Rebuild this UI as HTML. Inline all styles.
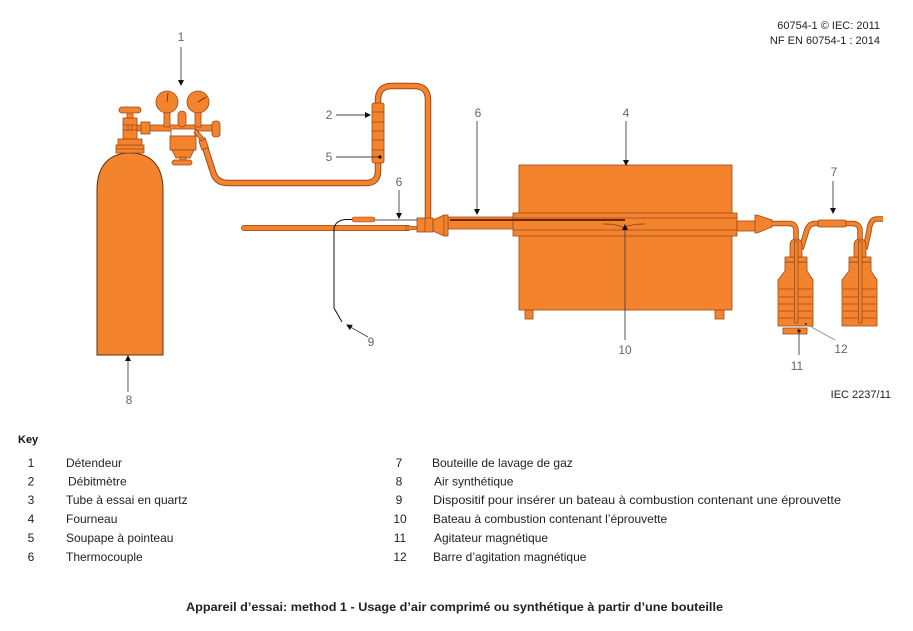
<!DOCTYPE html>
<html><head><meta charset="utf-8"><style>
html,body{margin:0;padding:0;background:#fff;}
svg{display:block;}
text{font-family:"Liberation Sans",sans-serif;}
</style></head><body>
<svg width="913" height="631" viewBox="0 0 913 631" xmlns="http://www.w3.org/2000/svg">
<defs>
<marker id="ah" markerWidth="6" markerHeight="6" refX="5" refY="3" orient="auto" markerUnits="userSpaceOnUse">
<path d="M0,0 L6,3 L0,6 Z" fill="#111"/>
</marker>
</defs>
<rect width="913" height="631" fill="#fff"/>

<!-- header -->
<text x="880" y="29" font-size="11" fill="#222" text-anchor="end">60754-1 © IEC: 2011</text>
<text x="880" y="44" font-size="11" fill="#222" text-anchor="end">NF EN 60754-1 : 2014</text>

<g stroke="#9a4a18" stroke-width="0.8" fill="#F4832E">
<!-- cylinder -->
<path d="M97,355 V190 C97,166 109,153 130,153 C151,153 163,166 163,190 V355 Z" stroke="#5a3010" stroke-width="1"/>
<rect x="116" y="145" width="28" height="8"/>
<line x1="116" y1="149" x2="144" y2="149"/>
<rect x="118" y="139" width="24" height="6"/>
<rect x="123" y="118" width="14" height="21"/>
<line x1="123" y1="125" x2="137" y2="125"/>
<line x1="123" y1="130" x2="137" y2="130"/>
<line x1="128" y1="125" x2="128" y2="130"/>
<line x1="132" y1="125" x2="132" y2="130"/>
<rect x="127" y="112" width="6" height="6"/>
<rect x="119" y="107" width="22" height="6" rx="3"/>

<!-- regulator -->
<rect x="137" y="125" width="78" height="6"/>
<rect x="141" y="122" width="9" height="12"/>
<rect x="164" y="111" width="6" height="16"/>
<rect x="195" y="111" width="6" height="16"/>
<circle cx="167" cy="102" r="11"/>
<circle cx="198" cy="102" r="11"/>
<line x1="167" y1="102" x2="168" y2="93" stroke="#5a2a08"/>
<line x1="198" y1="102" x2="206" y2="97" stroke="#5a2a08"/>
<rect x="178" y="111" width="8" height="16" rx="4"/>
<rect x="171" y="129" width="24" height="7" fill="#fff"/>
<rect x="170" y="136" width="26" height="14"/>
<path d="M172,150 H194 L190,158 H176 Z"/>
<rect x="180" y="157" width="6" height="4"/>
<rect x="172" y="160" width="20" height="5" rx="2.5"/>
<rect x="212" y="121" width="8" height="16" rx="3"/>
<path d="M196,129 L203,137 L200,139 L194,133 Z"/>
</g>

<!-- hose from regulator to flowmeter and loop -->
<path d="M202,138 L213,172 Q216,183 228,183 H366 Q378,183 378,171 V160" fill="none" stroke="#9a4a18" stroke-width="6.5"/>
<path d="M202,138 L213,172 Q216,183 228,183 H366 Q378,183 378,171 V160" fill="none" stroke="#F4832E" stroke-width="4.5"/>
<rect x="200" y="140" width="7" height="9" transform="rotate(-18 203 144)" fill="#F4832E" stroke="#9a4a18" stroke-width="0.8"/>
<path d="M378,104 V100 Q378,86 392,86 H414 Q428,86 428,100 V219" fill="none" stroke="#9a4a18" stroke-width="6.5"/>
<path d="M378,104 V100 Q378,86 392,86 H414 Q428,86 428,100 V219" fill="none" stroke="#F4832E" stroke-width="4.5"/>
<!-- flowmeter -->
<g stroke="#9a4a18" stroke-width="0.8" fill="#F4832E">
<rect x="372" y="103" width="12" height="60" rx="2"/>
<line x1="372" y1="112" x2="384" y2="112"/>
<line x1="372" y1="122" x2="384" y2="122"/>
<line x1="372" y1="131" x2="384" y2="131"/>
<line x1="372" y1="140" x2="384" y2="140"/>
<line x1="372" y1="150" x2="384" y2="150"/>
</g>

<!-- sample insertion rod -->
<path d="M244,228 H408" stroke="#9a4a18" stroke-width="6" stroke-linecap="round" fill="none"/>
<path d="M244,228 H408" stroke="#F4832E" stroke-width="4.5" stroke-linecap="round" fill="none"/>
<path d="M406,226 L418,226.5 V229.5 L406,230 Z" fill="#F4832E" stroke="#9a4a18" stroke-width="0.6"/>
<rect x="352" y="217" width="23" height="5" rx="2.5" fill="#F4832E" stroke="#9a4a18" stroke-width="0.6"/>
<line x1="375" y1="220" x2="420" y2="220" stroke="#777" stroke-width="1.2"/>
<path d="M334,228 Q336,220 346,219.5 L352,219.5" fill="none" stroke="#111" stroke-width="1"/>
<path d="M334,228 V308 L342,322" fill="none" stroke="#111" stroke-width="1"/>

<!-- coupling and tube -->
<g stroke="#9a4a18" stroke-width="0.8" fill="#F4832E">
<rect x="448" y="217" width="70" height="12"/>
<rect x="417" y="218" width="16" height="14"/>
<line x1="425" y1="218" x2="425" y2="232"/>
<path d="M433,220 L444,215 H448 V236 H444 L433,231 Z"/>
<line x1="444" y1="215" x2="444" y2="236"/>
<!-- furnace -->
<rect x="519" y="165" width="213" height="145"/>
<rect x="525" y="310" width="8" height="9"/>
<rect x="715" y="310" width="9" height="9"/>
<rect x="513" y="213" width="224" height="23"/>
<line x1="513" y1="218" x2="737" y2="218"/>
<line x1="513" y1="230" x2="737" y2="230"/>
<rect x="737" y="221" width="20" height="10"/>
<path d="M755,215 L757,215 L772,220 V227 L757,233 L755,233 Z"/>
</g>
<line x1="450" y1="220" x2="625" y2="220" stroke="#6a2808" stroke-width="2"/>
<path d="M603,224 Q618,224 624,228 Q630,224 645,224" fill="none" stroke="#9a4a18" stroke-width="0.9"/>

<!-- gas wash bottle tubes -->
<path d="M771,223.5 H789 Q796,223.5 796,231 V241" fill="none" stroke="#9a4a18" stroke-width="5.5"/>
<path d="M771,223.5 H789 Q796,223.5 796,231 V241" fill="none" stroke="#F4832E" stroke-width="3.8"/>
<path d="M801,249 L806,233 Q808,223.5 815,223.5 H852 Q860,223.5 860,231 V241" fill="none" stroke="#9a4a18" stroke-width="5.5"/>
<path d="M801,249 L806,233 Q808,223.5 815,223.5 H852 Q860,223.5 860,231 V241" fill="none" stroke="#F4832E" stroke-width="3.8"/>
<path d="M865,249 L869,231 Q870,219 877,219 H883" fill="none" stroke="#9a4a18" stroke-width="5.5"/>
<path d="M865,249 L869,231 Q870,219 877,219 H883" fill="none" stroke="#F4832E" stroke-width="3.8"/>
<rect x="818" y="220" width="28" height="7" rx="1.5" fill="#F4832E" stroke="#9a4a18" stroke-width="0.8"/>

<g id="bottle" stroke="#9a4a18" stroke-width="0.8" fill="#F4832E">
<path d="M785,262 H807 V271 L813,280 V326 H778 V280 L785,271 Z"/>
<rect x="785" y="257" width="22" height="5"/>
<path d="M790,257 V246 Q790,239 796,239 Q802,239 802,246 V257 Z"/>
<line x1="779" y1="289" x2="812" y2="289"/>
<line x1="779" y1="297" x2="812" y2="297"/>
<line x1="779" y1="304" x2="812" y2="304"/>
<line x1="779" y1="311" x2="812" y2="311"/>
<line x1="779" y1="318" x2="812" y2="318"/>
<rect x="794.5" y="241" width="3.5" height="82"/>
</g>
<use href="#bottle" transform="translate(64,0)"/>
<rect x="783" y="328" width="24" height="6" fill="#F4832E" stroke="#9a4a18" stroke-width="0.8"/>
<circle cx="799" cy="331" r="1.6" fill="#111"/>
<circle cx="806" cy="324" r="1" fill="#111"/>

<!-- leader lines -->
<g stroke="#444" stroke-width="0.9" fill="none">
<line x1="181" y1="47" x2="181" y2="85" marker-end="url(#ah)"/>
<line x1="336" y1="115" x2="370" y2="115" marker-end="url(#ah)"/>
<line x1="336" y1="157" x2="380" y2="157"/>
<line x1="399" y1="190" x2="399" y2="218" marker-end="url(#ah)"/>
<line x1="477" y1="121" x2="477" y2="214" marker-end="url(#ah)"/>
<line x1="626" y1="121" x2="626" y2="165" marker-end="url(#ah)"/>
<line x1="833" y1="181" x2="833" y2="213" marker-end="url(#ah)"/>
<line x1="128" y1="392" x2="128" y2="356" marker-end="url(#ah)"/>
<line x1="368" y1="337" x2="347" y2="325" marker-end="url(#ah)"/>
<line x1="625" y1="340" x2="625" y2="225" marker-end="url(#ah)"/>
<line x1="799" y1="331" x2="799" y2="355"/>
<line x1="806" y1="324" x2="835" y2="340" stroke="#888"/>
</g>
<circle cx="380" cy="157" r="1.6" fill="#111"/>

<!-- diagram labels -->
<g font-size="12" fill="#666" text-anchor="middle">
<text x="181" y="41">1</text>
<text x="329" y="119">2</text>
<text x="329" y="161">5</text>
<text x="399" y="186">6</text>
<text x="478" y="117">6</text>
<text x="626" y="117">4</text>
<text x="834" y="176">7</text>
<text x="129" y="404">8</text>
<text x="371" y="346">9</text>
<text x="625" y="354">10</text>
<text x="797" y="370">11</text>
<text x="841" y="353">12</text>
</g>
<text x="891" y="398" font-size="11" fill="#222" text-anchor="end">IEC 2237/11</text>

<!-- key -->
<text x="18" y="443" font-size="11" font-weight="bold" fill="#111">Key</text>
<g font-size="12" fill="#222">
<text x="31" y="467" text-anchor="middle">1</text><text x="66" y="467">Détendeur</text>
<text x="31" y="485.5" text-anchor="middle">2</text><text x="68" y="485.5">Débitmètre</text>
<text x="31" y="504" text-anchor="middle">3</text><text x="66" y="504">Tube à essai en quartz</text>
<text x="31" y="523" text-anchor="middle">4</text><text x="66" y="523">Fourneau</text>
<text x="31" y="542" text-anchor="middle">5</text><text x="66" y="542">Soupape à pointeau</text>
<text x="31" y="561" text-anchor="middle">6</text><text x="66" y="561">Thermocouple</text>

<text x="399" y="467" text-anchor="middle">7</text><text x="432" y="467">Bouteille de lavage de gaz</text>
<text x="399" y="485.5" text-anchor="middle">8</text><text x="434" y="485.5">Air synthétique</text>
<text x="399" y="504" text-anchor="middle">9</text><text x="433" y="504" textLength="408" lengthAdjust="spacingAndGlyphs">Dispositif pour insérer un bateau à combustion contenant une éprouvette</text>
<text x="400" y="523" text-anchor="middle">10</text><text x="433" y="523">Bateau à combustion contenant l’éprouvette</text>
<text x="400" y="542" text-anchor="middle">11</text><text x="434" y="542">Agitateur magnétique</text>
<text x="400" y="561" text-anchor="middle">12</text><text x="433" y="561">Barre d’agitation magnétique</text>
</g>

<text x="186" y="611" font-size="11.5" font-weight="bold" fill="#222" textLength="537" lengthAdjust="spacingAndGlyphs">Appareil d’essai: method 1 - Usage d’air comprimé ou synthétique à partir d’une bouteille</text>
</svg>
</body></html>
